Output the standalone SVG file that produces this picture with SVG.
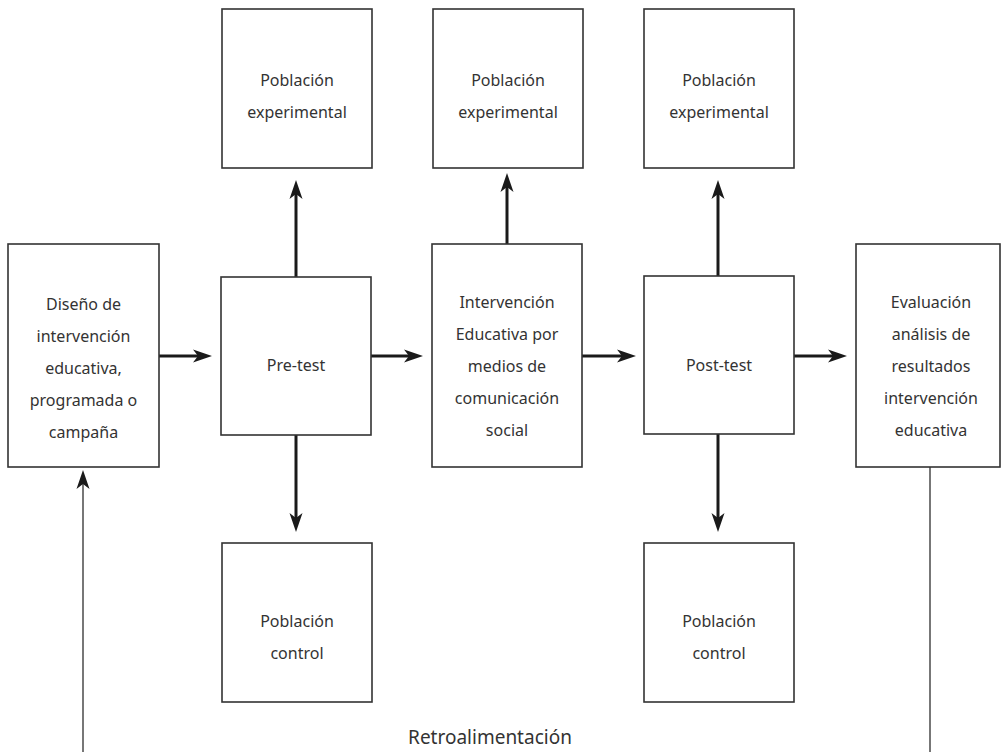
<svg xmlns="http://www.w3.org/2000/svg" width="1001" height="752" viewBox="0 0 1001 752">
  <style>
    .box { fill: #ffffff; stroke: #333333; stroke-width: 1.6; }
    .lbl { font-family: "Noto Sans", "Open Sans", sans-serif; font-size: 16px; fill: #333333; text-anchor: middle; }
    .big { font-family: "Noto Sans", "Open Sans", sans-serif; font-size: 19px; fill: #333333; text-anchor: middle; }
    .arr { stroke: #1a1a1a; stroke-width: 3; fill: none; marker-end: url(#ah); }
    .fb { stroke: #555555; stroke-width: 1.6; fill: none; }
  </style>
  <defs>
    <marker id="ah" markerUnits="userSpaceOnUse" markerWidth="20" markerHeight="14" viewBox="0 0 20 14" refX="9" refY="7" orient="auto">
      <path d="M0,0.5 L19,7 L0,13.5 L5,7 Z" fill="#1a1a1a"/>
    </marker>
  </defs>
  <rect width="1001" height="752" fill="#ffffff"/>

  <g id="connectors">
    <path class="arr" d="M159,356 L202,356"/>
    <path class="arr" d="M371,356 L413,356"/>
    <path class="arr" d="M582,356 L626,356"/>
    <path class="arr" d="M794,356 L837,356"/>
    <path class="arr" d="M296,277 L296,190"/>
    <path class="arr" d="M507,244 L507,183"/>
    <path class="arr" d="M718,276 L718,190"/>
    <path class="arr" d="M296,435 L296,522"/>
    <path class="arr" d="M718,434 L718,522"/>
    <path class="fb" d="M83,752 L83,480" marker-end="url(#ah)"/>
    <path class="fb" d="M930,467 L930,752"/>
  </g>

  <g id="diseno">
    <rect class="box" x="8" y="244" width="151" height="223"/>
    <text class="lbl" x="83.5" y="310">Diseño de</text>
    <text class="lbl" x="83.5" y="342">intervención</text>
    <text class="lbl" x="83.5" y="374">educativa,</text>
    <text class="lbl" x="83.5" y="406">programada o</text>
    <text class="lbl" x="83.5" y="438">campaña</text>
  </g>

  <g id="pretest">
    <rect class="box" x="221" y="277" width="150" height="158"/>
    <text class="lbl" x="296" y="371">Pre-test</text>
  </g>

  <g id="exp1">
    <rect class="box" x="222" y="9" width="150" height="159"/>
    <text class="lbl" x="297" y="86">Población</text>
    <text class="lbl" x="297" y="118">experimental</text>
  </g>

  <g id="ctrl1">
    <rect class="box" x="222" y="543" width="150" height="159"/>
    <text class="lbl" x="297" y="627">Población</text>
    <text class="lbl" x="297" y="659">control</text>
  </g>

  <g id="intervencion">
    <rect class="box" x="432" y="244" width="150" height="223"/>
    <text class="lbl" x="507" y="308">Intervención</text>
    <text class="lbl" x="507" y="340">Educativa por</text>
    <text class="lbl" x="507" y="372">medios de</text>
    <text class="lbl" x="507" y="404">comunicación</text>
    <text class="lbl" x="507" y="436">social</text>
  </g>

  <g id="exp2">
    <rect class="box" x="433" y="9" width="150" height="159"/>
    <text class="lbl" x="508" y="86">Población</text>
    <text class="lbl" x="508" y="118">experimental</text>
  </g>

  <g id="posttest">
    <rect class="box" x="644" y="276" width="150" height="158"/>
    <text class="lbl" x="719" y="371">Post-test</text>
  </g>

  <g id="exp3">
    <rect class="box" x="644" y="9" width="150" height="159"/>
    <text class="lbl" x="719" y="86">Población</text>
    <text class="lbl" x="719" y="118">experimental</text>
  </g>

  <g id="ctrl2">
    <rect class="box" x="644" y="543" width="150" height="159"/>
    <text class="lbl" x="719" y="627">Población</text>
    <text class="lbl" x="719" y="659">control</text>
  </g>

  <g id="evaluacion">
    <rect class="box" x="856" y="244" width="144" height="223"/>
    <text class="lbl" x="931" y="308">Evaluación</text>
    <text class="lbl" x="931" y="340">análisis de</text>
    <text class="lbl" x="931" y="372">resultados</text>
    <text class="lbl" x="931" y="404">intervención</text>
    <text class="lbl" x="931" y="436">educativa</text>
  </g>

  <g id="retro">
    <text class="big" x="490" y="744">Retroalimentación</text>
  </g>
</svg>
